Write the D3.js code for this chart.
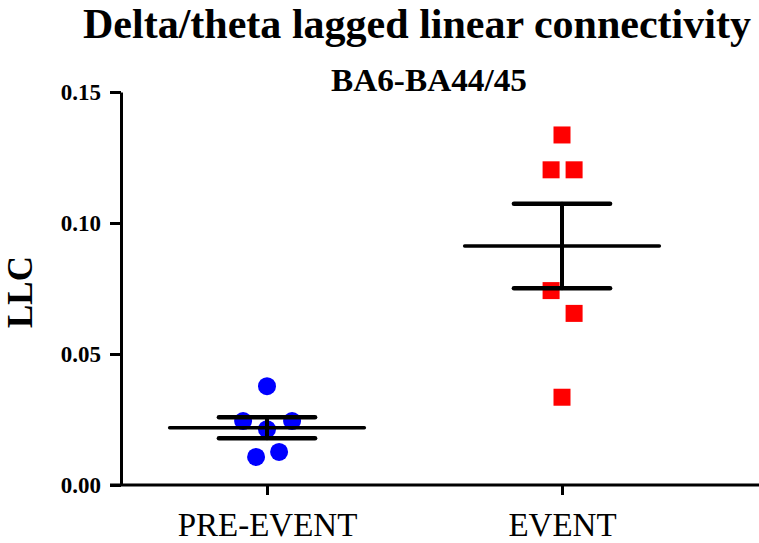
<!DOCTYPE html>
<html>
<head>
<meta charset="utf-8">
<script src="https://cdn.jsdelivr.net/npm/d3@7"></script>
<style>
  html, body { margin: 0; padding: 0; background: #fff; }
  svg { display: block; }
</style>
</head>
<body>
<div id="chart"></div>
<script>
// ---- data ----
const categories = ["PRE-EVENT", "EVENT"];
const preEventValues = [0.0377, 0.0244, 0.0244, 0.0213, 0.0107, 0.0126];
const eventValues    = [0.1336, 0.1203, 0.1203, 0.0742, 0.0655, 0.0335];
// horizontal scatter offsets (fraction of category spacing)
const preEventSpread = [0, -0.081, 0.085, 0, -0.037, 0.041];
const eventSpread    = [0, -0.037, 0.041, -0.037, 0.041, 0];
const yTicks = [0.00, 0.05, 0.10, 0.15];
const titleText = "Delta/theta lagged linear connectivity";
const subtitleText = "BA6-BA44/45";
const yLabel = "LLC";

const W = 759, H = 543;
const serif = "'Liberation Serif', 'Times New Roman', serif";

const svg = d3.select("#chart").append("svg")
  .attr("width", W).attr("height", H);

const y = d3.scaleLinear().domain([0, 0.15]).range([485, 92]);
const x = d3.scalePoint().domain(categories).range([267, 562]);
const step = x.step();
const axisX = 121;

// Titles
svg.append("text")
  .attr("x", 417).attr("y", 38)
  .attr("text-anchor", "middle")
  .attr("font-family", serif).attr("font-weight", "bold").attr("font-size", 42)
  .attr("textLength", 668).attr("lengthAdjust", "spacingAndGlyphs")
  .text(titleText);

svg.append("text")
  .attr("x", 429).attr("y", 91)
  .attr("text-anchor", "middle")
  .attr("font-family", serif).attr("font-weight", "bold").attr("font-size", 32)
  .attr("textLength", 196).attr("lengthAdjust", "spacingAndGlyphs")
  .text(subtitleText);

// Y label
svg.append("text")
  .attr("transform", "translate(32,292) rotate(-90)")
  .attr("text-anchor", "middle")
  .attr("font-family", serif).attr("font-weight", "bold").attr("font-size", 35)
  .text(yLabel);

// Y axis
const yAxis = d3.axisLeft(y).tickValues(yTicks).tickFormat(d3.format(".2f"))
  .tickSize(11).tickSizeOuter(0).tickPadding(9);
const gy = svg.append("g").attr("transform", `translate(${axisX},0)`).call(yAxis);
gy.select(".domain").attr("stroke", "#000").attr("stroke-width", 3);
gy.selectAll(".tick line").attr("stroke", "#000").attr("stroke-width", 3);
gy.selectAll(".tick text")
  .attr("font-family", serif).attr("font-weight", "bold").attr("font-size", 23)
  .attr("fill", "#000");

// X axis
const xAxis = d3.axisBottom(x).tickSize(10).tickSizeOuter(0).tickPadding(18);
const gx = svg.append("g").attr("transform", `translate(0,${y(0)})`).call(xAxis);
gx.select(".domain").remove();
gx.append("line")
  .attr("x1", axisX - 11).attr("x2", W).attr("y1", 0).attr("y2", 0)
  .attr("stroke", "#000").attr("stroke-width", 3);
gx.selectAll(".tick line").attr("stroke", "#000").attr("stroke-width", 3);
gx.selectAll(".tick text")
  .attr("font-family", serif).attr("font-size", 33).attr("fill", "#000");

// Points
const pre = preEventValues.map((v, i) => ({ v, off: preEventSpread[i] }));
const evt = eventValues.map((v, i) => ({ v, off: eventSpread[i] }));

svg.append("g").selectAll("circle").data(pre).join("circle")
  .attr("cx", d => x("PRE-EVENT") + d.off * step)
  .attr("cy", d => y(d.v))
  .attr("r", 9)
  .attr("fill", "#0000ff");

const sq = 17;
svg.append("g").selectAll("rect").data(evt).join("rect")
  .attr("x", d => x("EVENT") + d.off * step - sq / 2)
  .attr("y", d => y(d.v) - sq / 2)
  .attr("width", sq).attr("height", sq)
  .attr("fill", "#ff0000");

// Mean ± SEM
function stats(vals) {
  const m = d3.mean(vals);
  const sem = d3.deviation(vals) / Math.sqrt(vals.length);
  return { m, sem };
}
const groups = [
  { cat: "PRE-EVENT", ...stats(preEventValues) },
  { cat: "EVENT", ...stats(eventValues) }
];
const eb = svg.append("g").attr("stroke", "#000").attr("stroke-linecap", "round");
groups.forEach(g => {
  const cx = x(g.cat);
  eb.append("line")
    .attr("x1", cx - 0.33 * step).attr("x2", cx + 0.33 * step)
    .attr("y1", y(g.m)).attr("y2", y(g.m)).attr("stroke-width", 3.5);
  eb.append("line")
    .attr("x1", cx).attr("x2", cx)
    .attr("y1", y(g.m + g.sem)).attr("y2", y(g.m - g.sem)).attr("stroke-width", 4);
  [g.m + g.sem, g.m - g.sem].forEach(v => {
    eb.append("line")
      .attr("x1", cx - 0.163 * step).attr("x2", cx + 0.163 * step)
      .attr("y1", y(v)).attr("y2", y(v)).attr("stroke-width", 4.5);
  });
});
</script>
</body>
</html>
